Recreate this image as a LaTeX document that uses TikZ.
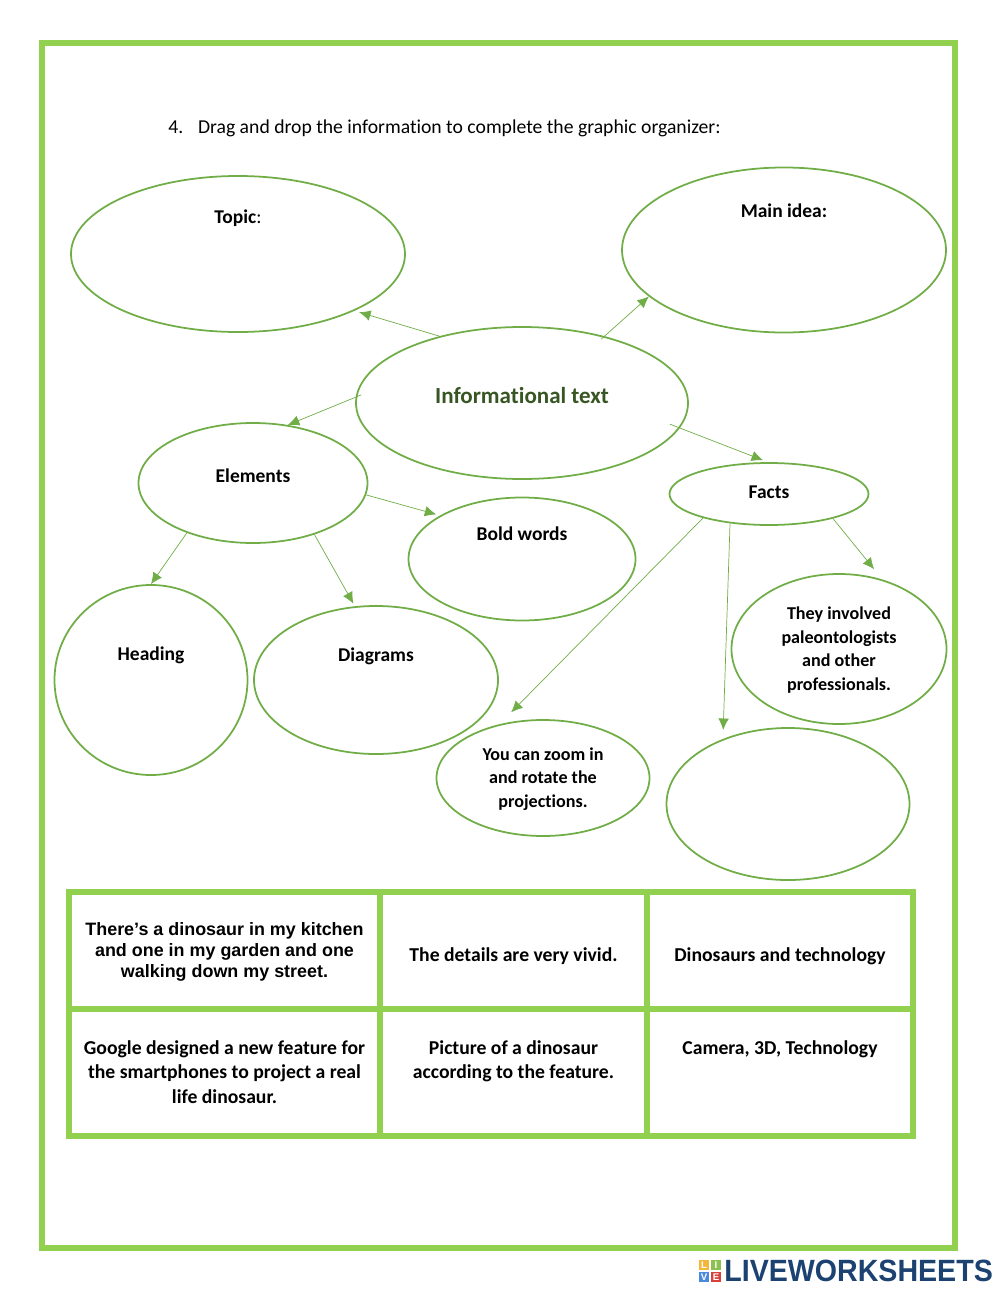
\documentclass[tikz,border=0pt]{standalone}
\usepackage{xcolor}
\usepackage{fontspec}
\setmainfont[Ligatures=NoCommon]{Carlito}
\newfontfamily\arialfont{Liberation Sans}
\usepackage{tikz}
\usetikzlibrary{shapes.geometric,arrows.meta}
\definecolor{WSFrame}{HTML}{92D050}
\definecolor{WSOval}{HTML}{70AD47}
\definecolor{WSText}{HTML}{375623}
\definecolor{WSNavy}{HTML}{1C4272}
\tikzset{
  oval/.style={draw=WSOval,ellipse,line width=1pt,inner sep=0pt},
  link/.style={WSOval,line width=0.4pt,-{Latex[length=6.5pt,width=6pt]}},
  cell/.style={draw=WSFrame,line width=3.2pt,inner sep=0pt},
  lab/.style={font=\fontsize{11.1}{13.4}\selectfont\bfseries,align=center},
  tile/.style={minimum size=6.2pt,inner sep=0pt,text=white,font=\fontsize{5.5}{6}\selectfont\bfseries\arialfont}
}
\begin{document}
\begin{tikzpicture}[x=0.02cm,y=-0.02cm]
\useasboundingbox (0,0) rectangle (1000,1291);
\node[draw=WSFrame,line width=3.4pt,minimum width=913*0.02cm,minimum height=1205*0.02cm,inner sep=0pt] (frame) at (498.5,645.5) {};
\node[font=\fontsize{11.2}{13}\selectfont,anchor=west,inner sep=0pt] (task) at (168,128) {4.\hspace{0.75em}Drag and drop the information to complete the graphic organizer:};
\foreach \nm/\x/\y/\w/\h in {topic/238/254/334/156,mainidea/784/250/324/165,info/522/403/332/152,elements/253/483/229/120,facts/769/494/199/62,bold/522/559/227/123,heading/151/680/193/190,diagrams/376/680/244/148,zoom/543/778/213/116,blank/788/804/243/152,they/839/649/215/150} {
  \node[oval,minimum width=\w*0.02cm,minimum height=\h*0.02cm] (\nm) at (\x,\y) {};
}
\node[lab] (topiclab) at (238,218) {Topic\textmd{:}};
\node[lab] (mainlab) at (784,211) {Main idea:};
\node[font=\fontsize{13.1}{15}\selectfont\bfseries,text=WSText] (infolab) at (522,396) {Informational text};
\node[lab] (elemlab) at (253,476) {Elements};
\node[lab] (factslab) at (769,492) {Facts};
\node[lab] (boldlab) at (522,534) {Bold words};
\node[lab] (headlab) at (151,655) {Heading};
\node[lab] (diaglab) at (376,656) {Diagrams};
\node[lab,font=\fontsize{10.3}{13.4}\selectfont\bfseries] (zoomlab) at (543,779) {You can zoom in\\and rotate the\\projections.};
\node[lab,font=\fontsize{10.3}{13.4}\selectfont\bfseries] (theylab) at (839,650) {They involved\\paleontologists\\and other\\professionals.};
\draw[link,shorten >=2.8pt] (info.141) -- (topic.-26);
\draw[link,shorten <=-2.5pt] (info.39) -- (mainidea.199);
\draw[link,shorten <=-3.4pt] (info.178) -- (elements.59);
\draw[link,shorten <=-6pt,shorten >=3pt] (info.-9) -- (facts.92);
\draw[link,shorten >=2.3pt] (elements.-6) -- (bold.152);
\draw[link] (elements.217) -- (heading.90);
\draw[link,shorten >=1.7pt] (elements.-40) -- (diagrams.106);
\draw[link,shorten >=9.5pt] (facts.200) -- (zoom.129);
\draw[link,shorten >=5.1pt] (facts.217) -- (blank.135);
\draw[link,shorten >=7.5pt] (facts.-21) -- (they.58);
\foreach \nm/\x/\y/\w/\h in {cella/224.5/950.5/311/117,cellb/513.5/950.5/267/117,cellc/780/950.5/266/117,celld/224.5/1072.5/311/127,celle/513.5/1072.5/267/127,cellf/780/1072.5/266/127} {
  \node[cell,minimum width=\w*0.02cm,minimum height=\h*0.02cm] (\nm) at (\x,\y) {};
}
\node[font=\fontsize{10.2}{11.9}\selectfont\bfseries\arialfont,align=center] (txta) at (224.5,952) {There’s a dinosaur in my kitchen\\and one in my garden and one\\walking down my street.};
\node[lab,font=\fontsize{11.2}{13.6}\selectfont\bfseries] (txtb) at (513.5,956) {The details are very vivid.};
\node[lab,font=\fontsize{11.2}{13.6}\selectfont\bfseries] (txtc) at (780,956) {Dinosaurs and technology};
\node[lab,font=\fontsize{11.2}{13.8}\selectfont\bfseries] (txtd) at (224.5,1072) {Google designed a new feature for\\the smartphones to project a real\\life dinosaur.};
\node[lab,font=\fontsize{11.2}{13.8}\selectfont\bfseries] (txte) at (513.5,1061) {Picture of a dinosaur\\according to the feature.};
\node[lab,font=\fontsize{11.2}{13.8}\selectfont\bfseries] (txtf) at (780,1049) {Camera, 3D, Technology};
\foreach \nm/\x/\y/\col/\lab in {tl/704/1265/F4B73B/L,ti/716/1265/8CC152/I,tv/704/1277/4A89DC/V,te/716/1277/D8413A/E} {
  \definecolor{tilecol}{HTML}{\col}
  \node[tile,fill=tilecol] (\nm) at (\x,\y) {\lab};
}
\node[anchor=west,inner sep=0pt,text=WSNavy,font=\fontsize{17.5}{20}\selectfont\bfseries\arialfont] (logo) at (724,1271) {\scalebox{0.93}[1]{LIVEWORKSHEETS}};
\end{tikzpicture}
\end{document}
